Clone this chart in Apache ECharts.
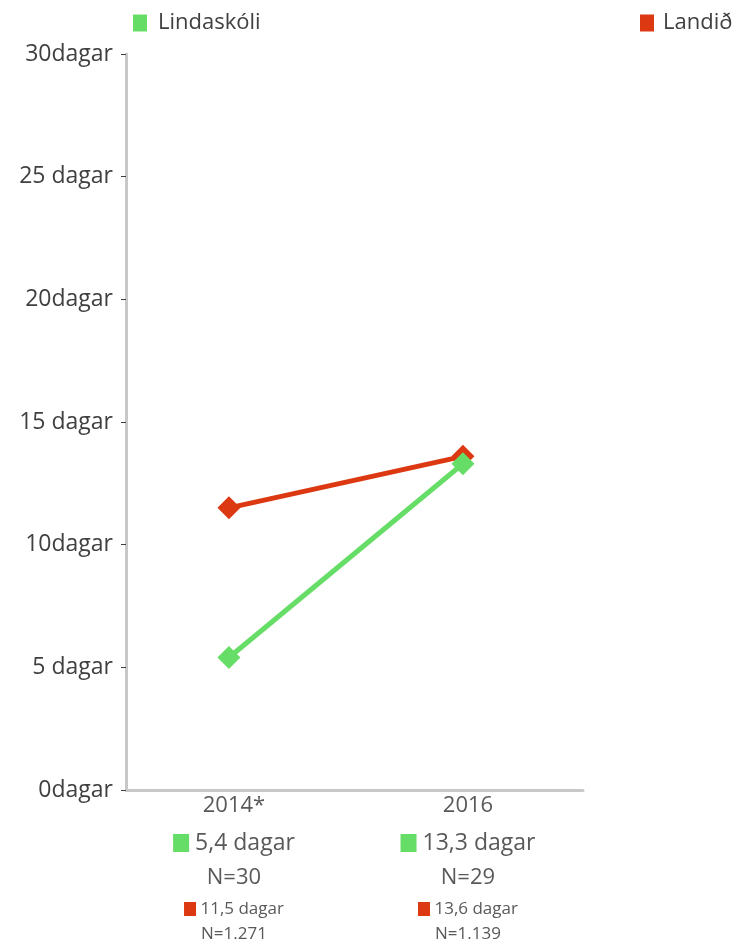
<!DOCTYPE html>
<html>
<head>
<meta charset="utf-8">
<script src="https://cdn.jsdelivr.net/npm/echarts@6/dist/echarts.min.js"></script>
<style>
html,body{margin:0;padding:0;background:#fff;}
#c{width:748px;height:946px;}
</style>
</head>
<body>
<div id="c"></div>
<script>
const categories = ['2014*', '2016'];
const lindaskoli = [5.4, 13.3];
const landid = [11.5, 13.6];
const lindaskoliN = ['30', '29'];
const landidN = ['1.271', '1.139'];
const yTickLabels = ['0dagar', '5 dagar', '10dagar', '15 dagar', '20dagar', '25 dagar', '30dagar'];
const seriesNames = ['Lindaskóli', 'Landið'];

const GREEN = '#66dd66';
const RED = '#dc3912';
const FONT = '"Open Sans", Lato, sans-serif';

function fmt(v) { return v.toFixed(1).replace('.', ','); }

const chart = echarts.init(document.getElementById('c'), null, {renderer: 'canvas'});

chart.setOption({
  animation: false,
  backgroundColor: '#ffffff',
  textStyle: {fontFamily: FONT},
  legend: [
    {
      data: [seriesNames[0]], left: 133, top: 12, padding: 0,
      icon: 'rect', itemWidth: 14, itemHeight: 17, itemGap: 10,
      textStyle: {fontFamily: FONT, fontSize: 22, color: '#404040', padding: [0, 0, 0, 6]},
      selectedMode: false
    },
    {
      data: [seriesNames[1]], left: 640, top: 12, padding: 0,
      icon: 'rect', itemWidth: 14, itemHeight: 17, itemGap: 10,
      textStyle: {fontFamily: FONT, fontSize: 22, color: '#404040', padding: [0, 0, 0, 4]},
      selectedMode: false
    }
  ],
  grid: {left: 126, right: 165, top: 54, bottom: 156, containLabel: false},
  xAxis: {
    type: 'value',
    min: -0.44,
    max: 1.513,
    splitLine: {show: false},
    axisTick: {show: false},
    axisLine: {show: true, onZero: false, lineStyle: {color: '#c8c8c8', width: 3}},
    axisLabel: {
      customValues: [0, 1],
      margin: 0,
      padding: [0, 0, 0, 10],
      formatter: function (v) {
        const i = Math.round(v);
        if (i < 0 || i >= categories.length) return '';
        return '{y|' + categories[i] + '}\n' +
          '{gs| }{g| ' + fmt(lindaskoli[i]) + ' dagar}\n' +
          '{n|N=' + lindaskoliN[i] + '}\n' +
          '{rs| }{r| ' + fmt(landid[i]) + ' dagar}\n' +
          '{rn|N=' + landidN[i] + '}';
      },
      rich: {
        y: {fontFamily: FONT, fontSize: 22, color: '#595959', lineHeight: 32},
        gs: {backgroundColor: GREEN, width: 16, height: 18, lineHeight: 42},
        g: {fontFamily: FONT, fontSize: 23, color: '#595959', lineHeight: 42},
        n: {fontFamily: FONT, fontSize: 22, color: '#595959', lineHeight: 28},
        rs: {backgroundColor: RED, width: 12, height: 14, lineHeight: 34},
        r: {fontFamily: FONT, fontSize: 17, color: '#595959', lineHeight: 34},
        rn: {fontFamily: FONT, fontSize: 17, color: '#595959', lineHeight: 16}
      }
    }
  },
  yAxis: {
    type: 'value',
    min: 0,
    max: 30,
    interval: 5,
    splitLine: {show: false},
    axisLine: {show: true, onZero: false, lineStyle: {color: '#c8c8c8', width: 3}},
    axisTick: {show: true, length: 5, lineStyle: {color: '#404040', width: 1}},
    axisLabel: {
      margin: 13,
      fontFamily: FONT,
      fontSize: 23,
      color: '#404040',
      formatter: function (v) { return yTickLabels[Math.round(v / 5)]; }
    }
  },
  series: [
    {
      name: seriesNames[1],
      type: 'line',
      data: landid.map((v, i) => [i, v]),
      color: RED,
      symbol: 'diamond',
      symbolSize: 23,
      lineStyle: {width: 5, color: RED},
      itemStyle: {color: RED},
      emphasis: {disabled: true},
      z: 2
    },
    {
      name: seriesNames[0],
      type: 'line',
      data: lindaskoli.map((v, i) => [i, v]),
      color: GREEN,
      symbol: 'diamond',
      symbolSize: 23,
      lineStyle: {width: 5, color: GREEN},
      itemStyle: {color: GREEN},
      emphasis: {disabled: true},
      z: 3
    }
  ]
});
</script>
</body>
</html>
